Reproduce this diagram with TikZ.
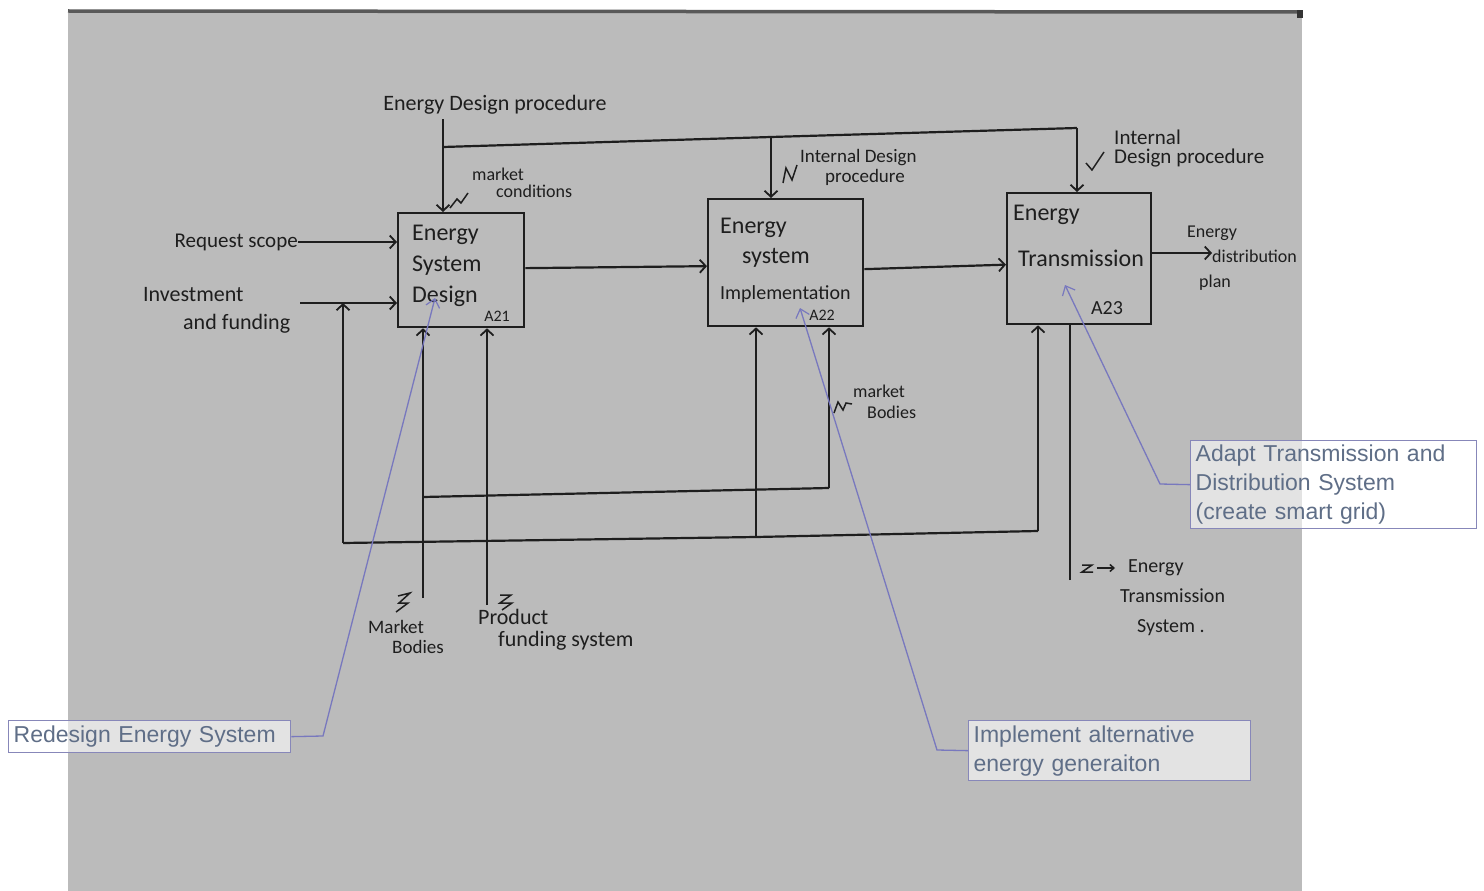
\documentclass[tikz,border=0pt]{standalone}
\usepackage{fontspec}
\setmainfont{Carlito}
\newfontfamily\calloutfont{Liberation Sans}
\usetikzlibrary{arrows.meta}
\definecolor{paper}{RGB}{187,187,187}
\definecolor{ink}{RGB}{30,30,30}
\definecolor{callline}{RGB}{120,120,190}
\definecolor{calltext}{RGB}{95,110,135}
\definecolor{callborder}{RGB}{135,135,185}
\begin{document}
\begin{tikzpicture}[x=1pt,y=-1pt,
  inkline/.style={draw=ink, line width=2.2pt},
  arr/.style={inkline, -{Straight Barb[length=6pt,width=13pt,line width=1.8pt]}},
  proc/.style={draw=ink, line width=2.3pt, anchor=north west, inner sep=0pt},
  hand/.style={text=ink, inner sep=0pt, align=left},
  fa/.style={font=\fontsize{24}{31}\selectfont},
  fb/.style={font=\fontsize{20}{24}\selectfont},
  fc/.style={font=\fontsize{16}{19}\selectfont},
  sq/.style={draw=ink, line width=1.5pt},
  leader/.style={draw=callline, line width=1.3pt, -{Straight Barb[length=8pt,width=14pt,line width=1.2pt]}},
  callout/.style={draw=callborder, line width=1.3pt, fill=white, fill opacity=0.6, text opacity=1,
    text=calltext, font=\calloutfont\fontsize{23}{29}\selectfont, align=left, anchor=north west,
    inner xsep=5pt, inner ysep=3pt}]
\useasboundingbox (0,0) rectangle (1484,891);
% paper
\fill[paper] (68,10) rectangle (1302,891);
\draw[line width=3.5pt, color=black!65] (68,11) -- (1302,12);
\fill[black!80] (1297,10) rectangle (1303,18);

% boxes
\node[proc, minimum width=126pt, minimum height=114pt] (a21) at (397,212) {};
\node[proc, minimum width=155pt, minimum height=127pt] (a22) at (707,198) {};
\node[proc, minimum width=144pt, minimum height=131pt] (a23) at (1006,192) {};

% box texts
\node[hand, fa, anchor=west] (a21t) at (412,266) {Energy\\System\\Design};
\node[hand, fc, anchor=center] (a21n) at (497,316) {A21};
\node[hand, fa, anchor=west] (a22t1) at (720,228) {Energy};
\node[hand, fa, anchor=west] (a22t2) at (742,258) {system};
\node[hand, fb, anchor=west] (a22t3) at (720,294) {Implementation};
\node[hand, fc, anchor=center] (a22n) at (822,315) {A22};
\node[hand, fa, anchor=west] (a23t1) at (1013,215) {Energy};
\node[hand, fa, anchor=west] (a23t2) at (1018,258) {Transmission};
\node[hand, fb, anchor=center] (a23n) at (1107,308) {A23};

% labels
\node[hand, font=\fontsize{22}{26}\selectfont, anchor=center] (edp) at (495,105) {Energy Design procedure};
\node[hand, font=\fontsize{18}{17}\selectfont, anchor=west] (mc) at (472,183) {market\\\hspace*{24pt}conditions};
\node[hand, font=\fontsize{19}{20}\selectfont, anchor=west] (idp1) at (800,167) {Internal Design\\\hspace*{25pt}procedure};
\node[hand, font=\fontsize{21}{19}\selectfont, anchor=west] (idp2) at (1114,149) {Internal\\Design procedure};
\node[hand, font=\fontsize{21}{22}\selectfont, anchor=east] (rs) at (298,242) {Request scope};
\node[hand, font=\fontsize{22}{28}\selectfont, anchor=west] (inv) at (143,310) {Investment\\\hspace*{40pt}and funding};
\node[hand, font=\fontsize{18}{25}\selectfont, anchor=west] (edist) at (1187,258) {Energy\\\hspace*{25pt}distribution\\\hspace*{12pt}plan};
\node[hand, font=\fontsize{18}{21}\selectfont, anchor=west] (mb2) at (853,402) {market\\\hspace*{14pt}Bodies};
\node[hand, font=\fontsize{19}{20}\selectfont, anchor=west] (mb1) at (368,637) {Market\\\hspace*{24pt}Bodies};
\node[hand, font=\fontsize{22}{22}\selectfont, anchor=west] (pfs) at (478,630) {Product\\\hspace*{20pt}funding system};
\node[hand, font=\fontsize{20}{30}\selectfont, anchor=west] (ets) at (1120,598) {\hspace*{8pt}Energy\\Transmission\\\hspace*{17pt}System .};

% top controls
\coordinate (c0) at (443,119);
\coordinate (c1) at (443,147);
\coordinate (c2) at (771,137);
\coordinate (c3) at (1077,128);
\draw[arr] (c0) -- (c0 |- a21.north);
\draw[inkline] (c1) -- (c2) -- (c3);
\draw[arr] (c2) -- (c2 |- a22.north);
\draw[arr] (c3) -- (c3 |- a23.north);

% inputs
\draw[arr] (rs.east) -- (rs.east -| a21.west);
\coordinate (invs) at (300,303);
\draw[arr] (invs) -- (invs -| a21.west);

% flows between boxes
\draw[arr] ([yshift=2pt]a21.east) -- ([yshift=-3.5pt]a22.west);
\draw[arr] ([yshift=-6.5pt]a22.east) -- ([yshift=-6pt]a23.west);
\coordinate (outp) at (1212,253);
\draw[arr] (outp -| a23.east) -- (outp);

% feedback loops
\coordinate (fb1) at (343,543);
\coordinate (fb2) at (756,537);
\coordinate (fb3) at (1038,531);
\draw[inkline] (fb1) -- (fb2) -- (fb3);
\draw[arr] (fb1) -- (fb1 |- invs);
\draw[arr] (fb2) -- (fb2 |- a22.south);
\draw[arr] (fb3) -- (fb3 |- a23.south);
\coordinate (il1) at (423,497);
\coordinate (il2) at (829,488);
\draw[inkline] (il1) -- (il2);
\draw[arr] (il2) -- (il2 |- a22.south);

% mechanisms
\coordinate (m1) at (423,598);
\coordinate (m2) at (487,605);
\coordinate (m3) at (1070,580);
\draw[arr] (m1) -- (m1 |- a21.south);
\draw[arr] (m2) -- (m2 |- a21.south);
\draw[inkline] (m3) -- (m3 |- a23.south);

% squiggles
\draw[sq] (450,208) -- (457,199) -- (461,203) -- (468,193);
\draw[sq] (783,183) -- (786,168) -- (792,180) -- (797,165);
\draw[sq] (1086,163) -- (1092,170) -- (1104,152);
\draw[sq] (834,413) -- (838,402) -- (843,410) -- (846,403) -- (852,404);
\draw[sq] (398,596) -- (410,593) -- (399,603) -- (408,603) -- (396,612);
\draw[sq] (500,595) -- (511,595) -- (500,603) -- (512,603) -- (502,610);
\draw[sq] (1082,565) -- (1092,565) -- (1082,572) -- (1093,572);
\draw[sq, -{Straight Barb[length=4pt,width=7pt]}] (1097,568) -- (1115,568);

% callouts
\node[callout, text width=272pt, minimum height=32pt] (rds) at (8,720) {Redesign Energy System};
\node[callout, text width=272pt, minimum height=60pt] (ia) at (968,720) {Implement alternative\\energy generaiton};
\node[callout, text width=276pt, minimum height=88pt] (ad) at (1190,440) {Adapt Transmission and\\Distribution System\\(create smart grid)};

\draw[leader] (rds.east) -- (323,736) -- (435,298);
\draw[leader] (ia.west) -- (937,750) -- (800,308);
\draw[leader] (ad.west) -- (1160,484) -- (1065,285);
\end{tikzpicture}
\end{document}
